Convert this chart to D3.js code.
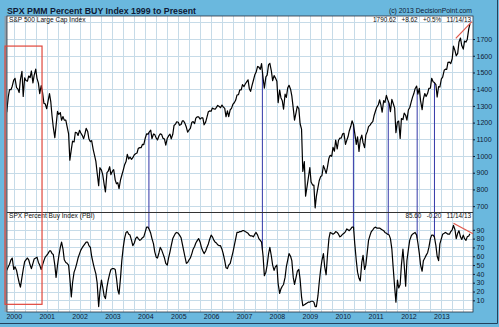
<!DOCTYPE html>
<html>
<head>
<meta charset="utf-8">
<script src="https://cdn.jsdelivr.net/npm/d3@7"></script>
<style>
body { margin: 0; background: #6ab8de; }
svg { display: block; font-family: "Liberation Sans", Arial, sans-serif; }
</style>
</head>
<body>
<svg id="chart"></svg>
<script>
// semi-monthly readings: 1999-10-15, then the 1st and 15th of every month, last point 11/14/13
const spxValues = [
    1262, 1354, 1397, 1397, 1418, // late 1999
    1455, 1465, 1409, 1402, 1380, 1458, 1507, 1357, 1468, 1452, 1448, 1479, 1469, 1509, 1438, 1484, 1520, 1465, 1436, 1374, 1421, 1383, 1315, 1313, // 2000
    1283, 1326, 1373, 1326, 1241, 1173, 1110, 1183, 1267, 1249, 1260, 1214, 1236, 1215, 1215, 1178, 1133, 975, 1038, 1089, 1084, 1142, 1139, 1123, // 2001
    1154, 1138, 1122, 1104, 1131, 1166, 1147, 1102, 1086, 1092, 1040, 1007, 968, 900, 822, 930, 916, 889, 830, 785, 900, 909, 936, 889, // 2002
    909, 918, 856, 834, 841, 805, 858, 885, 916, 946, 967, 1010, 982, 994, 980, 990, 1008, 1014, 1018, 1046, 1050, 1050, 1070, 1068, // 2003
    1108, 1133, 1131, 1145, 1155, 1104, 1132, 1128, 1107, 1096, 1121, 1133, 1128, 1106, 1101, 1065, 1106, 1120, 1131, 1103, 1130, 1183, 1191, 1205, // 2004
    1202, 1184, 1189, 1210, 1210, 1197, 1172, 1143, 1156, 1166, 1202, 1206, 1194, 1227, 1235, 1234, 1221, 1228, 1228, 1187, 1203, 1231, 1265, 1270, // 2005
    1268, 1287, 1282, 1280, 1291, 1303, 1297, 1289, 1305, 1294, 1285, 1235, 1270, 1236, 1277, 1285, 1311, 1319, 1335, 1365, 1367, 1396, 1396, 1427, // 2006
    1416, 1431, 1445, 1456, 1403, 1387, 1424, 1452, 1486, 1501, 1536, 1532, 1519, 1553, 1465, 1406, 1474, 1484, 1547, 1555, 1508, 1451, 1481, 1468, // 2007
    1447, 1320, 1395, 1349, 1331, 1280, 1370, 1351, 1409, 1423, 1400, 1360, 1285, 1215, 1260, 1298, 1283, 1193, 1161, 908, 966, 760, 816, 868, // 2008
    931, 844, 826, 826, 690, 760, 811, 852, 877, 882, 942, 923, 896, 932, 987, 1004, 998, 1052, 1029, 1096, 1042, 1093, 1108, 1107, // 2009
    1133, 1136, 1070, 1094, 1115, 1150, 1178, 1211, 1187, 1136, 1070, 1115, 1027, 1096, 1125, 1080, 1050, 1125, 1146, 1176, 1185, 1197, 1206, 1241, // 2010
    1271, 1293, 1307, 1336, 1306, 1262, 1332, 1320, 1363, 1338, 1315, 1266, 1339, 1316, 1287, 1140, 1204, 1209, 1105, 1224, 1218, 1257, 1244, 1215, // 2011
    1277, 1289, 1324, 1351, 1374, 1403, 1419, 1370, 1405, 1330, 1278, 1342, 1374, 1356, 1375, 1405, 1406, 1465, 1444, 1440, 1427, 1353, 1416, 1413, // 2012
    1462, 1472, 1513, 1520, 1518, 1560, 1562, 1553, 1582, 1658, 1631, 1600, 1614, 1682, 1706, 1661, 1640, 1688, 1682, 1698, 1761, 1790.62 // 2013
]

const pbiValues = [
    44, 48, 51, 56, 58, // late 1999
    45, 48, 44, 37, 30, 25, 36, 45, 54, 56, 58, 56, 50, 46, 52, 57, 58, 59, 53, 50, 45, 50, 55, 59, // 2000
    61, 63, 66, 66, 63, 62, 50, 36, 50, 60, 70, 76, 68, 56, 53, 52, 50, 35, 14, 30, 42, 46, 52, 58, // 2001
    63, 67, 70, 72, 74, 76, 76, 72, 70, 60, 52, 46, 40, 30, 3, 20, 33, 25, 15, 12, 25, 33, 40, 45, // 2002
    46, 46, 45, 35, 22, 17, 36, 55, 70, 80, 87, 88, 85, 84, 78, 72, 75, 80, 82, 80, 78, 79, 81, 82, // 2003
    88, 93, 93, 90, 86, 80, 74, 65, 59, 58, 64, 70, 67, 63, 58, 52, 50, 58, 65, 72, 80, 83, 86, 87, // 2004
    86, 84, 81, 74, 67, 60, 52, 53, 56, 58, 63, 68, 71, 75, 78, 80, 76, 70, 66, 63, 66, 70, 74, 79, // 2005
    84, 82, 78, 76, 75, 73, 72, 72, 68, 63, 55, 47, 46, 50, 52, 58, 65, 72, 80, 87, 87, 88, 88, 89, // 2006
    89, 88, 87, 86, 84, 83, 83, 82, 85, 87, 84, 80, 78, 76, 60, 38, 42, 50, 63, 70, 60, 50, 44, 48, // 2007
    50, 29, 18, 23, 26, 28, 36, 48, 56, 63, 60, 55, 36, 28, 36, 43, 45, 34, 14, 4, 5, 6, 7, 8, // 2008
    8, 9, 9, 8, 3, 3, 15, 30, 45, 55, 63, 48, 39, 60, 80, 87, 86, 85, 86, 88, 87, 85, 82, 83, // 2009
    85, 86, 88, 91, 90, 89, 91, 93, 93, 74, 55, 42, 35, 32, 53, 61, 45, 50, 65, 78, 84, 88, 90, 92, // 2010
    93, 92, 92, 92, 91, 90, 89, 87, 86, 85, 84, 80, 68, 48, 25, 8, 33, 24, 28, 50, 68, 50, 26, 55, // 2011
    68, 78, 83, 85, 86, 87, 84, 75, 63, 50, 43, 55, 58, 61, 64, 70, 80, 84, 84, 82, 72, 60, 55, 74, // 2012
    80, 85, 86, 87, 86, 85, 85, 88, 90, 95, 90, 80, 86, 89, 82, 79, 84, 80, 78, 82, 83, 85.6 // 2013
]

const spxTicks = [700, 800, 900, 1000, 1100, 1200, 1300, 1400, 1500, 1600, 1700]
const pbiTicks = [10, 20, 30, 40, 50, 60, 70, 80, 90]
const signalDates = ["2004-02-10", "2007-07-24", "2010-04-30", "2011-05-22", "2012-04-07", "2012-10-16"] // blue verticals
const boxDates = ["1999-09-26", "2000-11-10"] // red box, left and right
const boxLevels = [1658, 5.5] // red box top (SPX) and bottom (PBI)
const spxTrendDates = ["2013-06-10", "2013-12-05"]
const spxTrendValues = [1704, 1804]
const pbiTrendDates = ["2013-05-15", "2013-12-18"]
const pbiTrendValues = [97.5, 85.5]
const spxLabel = ["1790.62", "+8.62", "+0.5%", "11/14/13"]
const pbiLabel = ["85.60", "-0.20", "11/14/13"]

// build the dates of the readings
var dates = [new Date(1999, 9, 15)]
var month = new Date(1999, 10, 1)
while (dates.length < spxValues.length) {
    dates.push(new Date(month.getFullYear(), month.getMonth(), 1))
    dates.push(new Date(month.getFullYear(), month.getMonth(), 15))
    month = d3.timeMonth.offset(month, 1)
}
dates = dates.slice(0, spxValues.length)
dates[dates.length - 1] = new Date(2013, 10, 14)

const parse = d3.timeParse("%Y-%m-%d")
const W = 499, H = 327
const plotL = 7, plotR = 473, plotT = 16, plotM = 212.5, plotB = 312
const ink = "#0e1a35"
const gridColor = "#c6dbe8"

var svg = d3.select("#chart").attr("width", W).attr("height", H)

var x = d3.scaleTime().domain([new Date(1999, 9, 18), new Date(2013, 11, 18)]).range([plotL, plotR])
var ySpx = d3.scaleLinear().domain([662, 1838]).range([plotM, plotT])
var yPbi = d3.scaleLinear().domain([-3.2, 109.6]).range([plotB, plotM])

// outer frame shadow on the right and bottom
svg.append("line").attr("x1", 0).attr("x2", 497.5).attr("y1", 323.5).attr("y2", 323.5).attr("stroke", "#24405c").attr("stroke-width", 1)
svg.append("line").attr("x1", 497.5).attr("x2", 497.5).attr("y1", 0).attr("y2", 323.5).attr("stroke", "#24405c").attr("stroke-width", 1)

// title and copyright
svg.append("text").attr("x", 7).attr("y", 13.5).attr("font-size", 8.8).attr("font-weight", "bold")
    .attr("fill", ink).text("SPX PMM Percent BUY Index 1999 to Present")
svg.append("text").attr("x", 472).attr("y", 13).attr("font-size", 6.8).attr("text-anchor", "end")
    .attr("fill", ink).text("(c) 2013 DecisionPoint.com")

// plot background and the grey strip on its left
svg.append("rect").attr("x", 4.5).attr("y", plotT).attr("width", 2.5).attr("height", plotB - plotT).attr("fill", "#8d9eaa")
svg.append("rect").attr("x", plotL).attr("y", plotT).attr("width", plotR - plotL).attr("height", plotB - plotT).attr("fill", "white")

var grid = svg.append("g").attr("stroke", gridColor).attr("stroke-width", 1).attr("shape-rendering", "crispEdges")
grid.selectAll(".vx").data(d3.timeMonth.every(4).range(x.domain()[0], x.domain()[1])).enter().append("line")
    .attr("x1", d => Math.round(x(d)) + 0.5).attr("x2", d => Math.round(x(d)) + 0.5)
    .attr("y1", plotT).attr("y2", plotB)
grid.selectAll(".hs").data(d3.range(700, 1900, 100)).enter().append("line")
    .attr("x1", plotL).attr("x2", plotR)
    .attr("y1", d => Math.round(ySpx(d)) + 0.5).attr("y2", d => Math.round(ySpx(d)) + 0.5)
grid.selectAll(".hp").data(d3.range(0, 110, 10)).enter().append("line")
    .attr("x1", plotL).attr("x2", plotR)
    .attr("y1", d => Math.round(yPbi(d)) + 0.5).attr("y2", d => Math.round(yPbi(d)) + 0.5)

// clip each panel
var defs = svg.append("defs")
defs.append("clipPath").attr("id", "clipTop").append("rect").attr("x", plotL).attr("y", plotT).attr("width", plotR - plotL).attr("height", plotM - plotT)
defs.append("clipPath").attr("id", "clipLow").append("rect").attr("x", plotL).attr("y", plotM).attr("width", plotR - plotL).attr("height", plotB - plotM)

function valueAt(values, date) { // y of the drawn path at a date
    var i = d3.bisectLeft(dates, date)
    var a = dates[i - 1], b = dates[i]
    var f = (date - a) / (b - a)
    return values[i - 1] + f * (values[i] - values[i - 1])
}

// blue signal lines from the PBI up to the price
svg.append("g").selectAll("line").data(signalDates.map(parse)).enter().append("line")
    .attr("x1", d => x(d)).attr("x2", d => x(d))
    .attr("y1", d => ySpx(valueAt(spxValues, d))).attr("y2", d => yPbi(valueAt(pbiValues, d)))
    .attr("stroke", "#3338a8").attr("stroke-width", 1)

var spxLine = d3.line().x((d, i) => x(dates[i])).y(d => ySpx(d))
var pbiLine = d3.line().x((d, i) => x(dates[i])).y(d => yPbi(d))

svg.append("path").datum(spxValues).attr("d", spxLine).attr("clip-path", "url(#clipTop)")
    .attr("fill", "none").attr("stroke", "black").attr("stroke-width", 1.2).attr("stroke-linejoin", "round")
svg.append("path").datum(pbiValues).attr("d", pbiLine).attr("clip-path", "url(#clipLow)")
    .attr("fill", "none").attr("stroke", "black").attr("stroke-width", 1.2).attr("stroke-linejoin", "round")

// panel divider and frame
svg.append("line").attr("x1", plotL).attr("x2", plotR).attr("y1", plotM).attr("y2", plotM).attr("stroke", "#333").attr("stroke-width", 1)
svg.append("rect").attr("x", plotL).attr("y", plotT).attr("width", plotR - plotL).attr("height", plotB - plotT)
    .attr("fill", "none").attr("stroke", "#2a3340").attr("stroke-width", 0.8)

// panel labels
svg.append("text").attr("x", 9).attr("y", 21.5).attr("font-size", 6.6).attr("fill", "#111").text("S&P 500 Large Cap Index")
svg.append("text").attr("x", 9).attr("y", 218.3).attr("font-size", 6.6).attr("fill", "#111").text("SPX Percent Buy Index (PBI)")
svg.append("text").attr("x", 471).attr("y", 21.5).attr("font-size", 6.4).attr("text-anchor", "end").attr("fill", "#111")
    .attr("xml:space", "preserve").text(spxLabel.join("   "))
svg.append("text").attr("x", 471).attr("y", 218.3).attr("font-size", 6.4).attr("text-anchor", "end").attr("fill", "#111")
    .attr("xml:space", "preserve").text(pbiLabel.join("   "))

// right axes
var axSpx = svg.append("g").attr("transform", `translate(${plotR},0)`)
    .call(d3.axisRight(ySpx).tickValues(spxTicks).tickFormat(d3.format("d")).tickSize(2).tickPadding(1.5))
var axPbi = svg.append("g").attr("transform", `translate(${plotR},0)`)
    .call(d3.axisRight(yPbi).tickValues(pbiTicks).tickFormat(d3.format("d")).tickSize(2).tickPadding(1.5))
var axX = svg.append("g").attr("transform", `translate(0,${plotB})`)
    .call(d3.axisBottom(x).ticks(d3.timeYear.every(1)).tickFormat(d3.timeFormat("%Y")).tickSize(0).tickPadding(2.5))
svg.selectAll(".domain").remove()
svg.selectAll(".tick line").attr("stroke", ink)
svg.selectAll(".tick text").attr("font-size", 7).attr("fill", ink).attr("font-family", "Liberation Sans, Arial, sans-serif")

// red annotations
var box = boxDates.map(parse)
svg.append("rect").attr("x", x(box[0])).attr("y", ySpx(boxLevels[0]))
    .attr("width", x(box[1]) - x(box[0])).attr("height", yPbi(boxLevels[1]) - ySpx(boxLevels[0]))
    .attr("fill", "none").attr("stroke", "#e0463c").attr("stroke-width", 1.2)
svg.append("line").attr("x1", x(parse(spxTrendDates[0]))).attr("x2", x(parse(spxTrendDates[1])))
    .attr("y1", ySpx(spxTrendValues[0])).attr("y2", ySpx(spxTrendValues[1]))
    .attr("stroke", "#e0584c").attr("stroke-width", 1.2)
svg.append("line").attr("x1", x(parse(pbiTrendDates[0]))).attr("x2", x(parse(pbiTrendDates[1])))
    .attr("y1", yPbi(pbiTrendValues[0])).attr("y2", yPbi(pbiTrendValues[1]))
    .attr("stroke", "#e0584c").attr("stroke-width", 1.2)
</script>
</body>
</html>
